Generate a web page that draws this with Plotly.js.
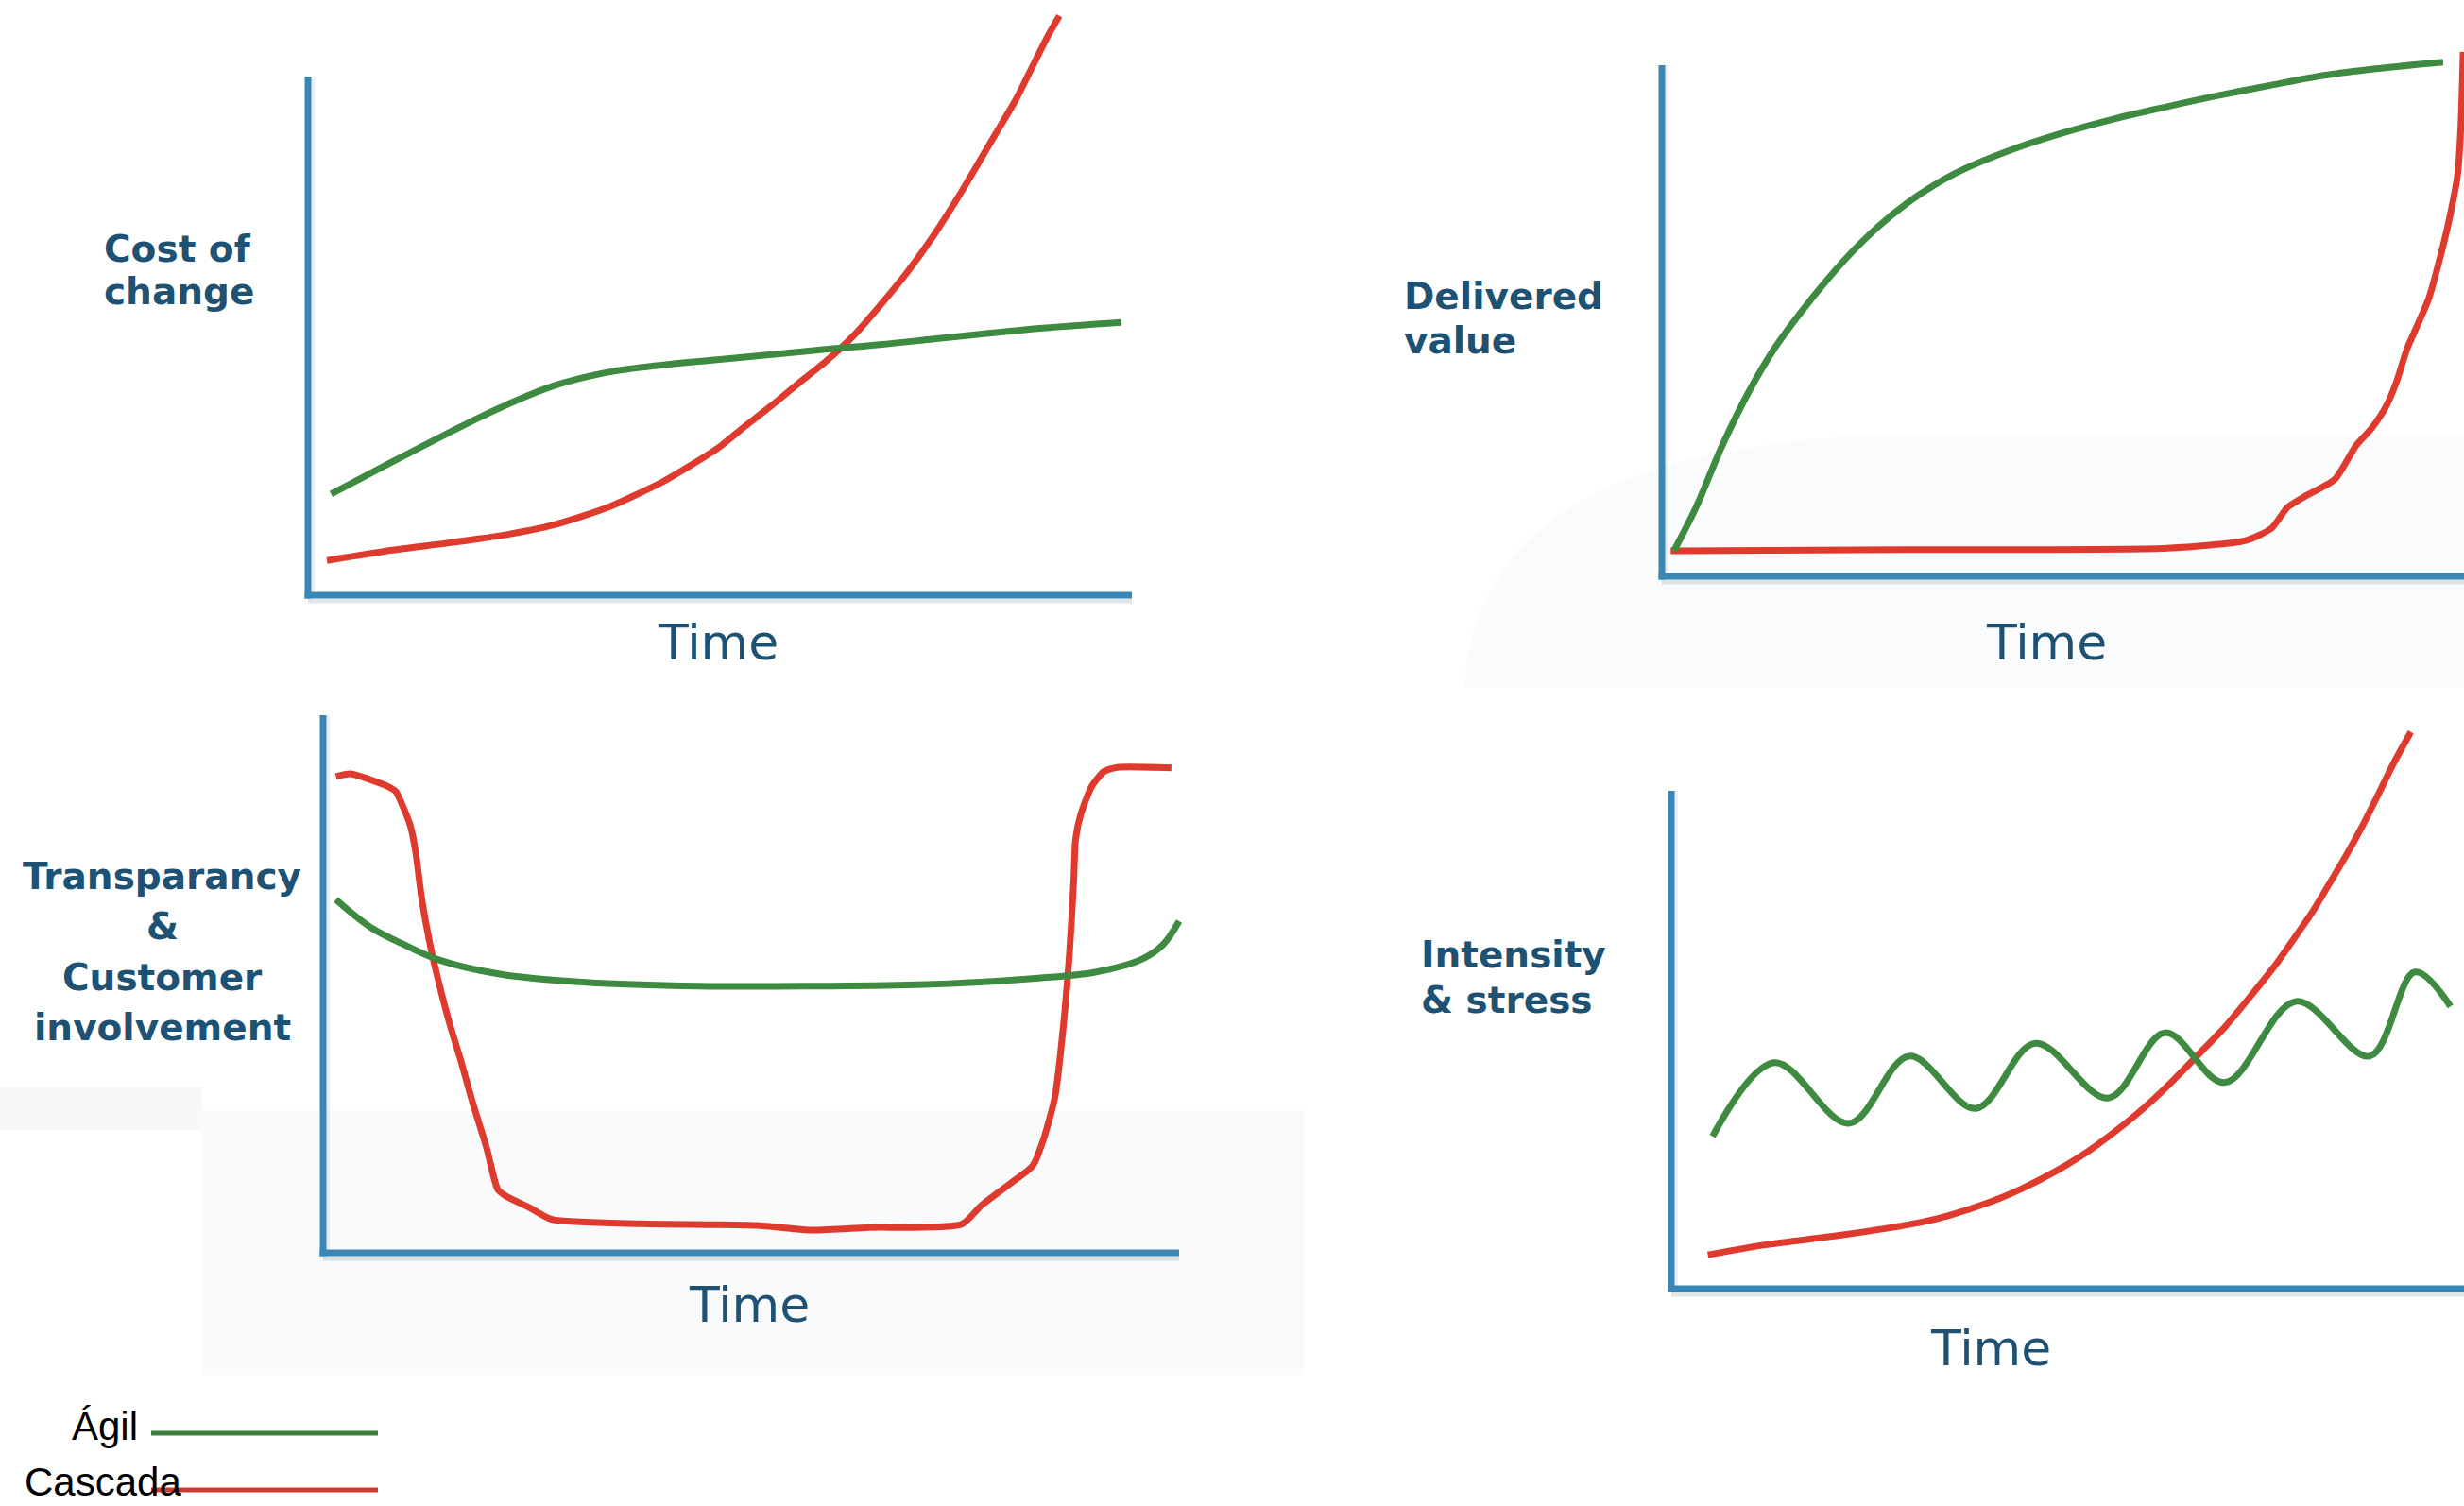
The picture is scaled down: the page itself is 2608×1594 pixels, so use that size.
<!DOCTYPE html>
<html>
<head>
<meta charset="utf-8">
<script src="https://cdn.plot.ly/plotly-3.0.1.min.js"></script>
<style>html,body{margin:0;padding:0;background:#fff;}#chart{width:2608px;height:1594px;}</style>
</head>
<body>
<div id="chart"></div>
<script>
// ---------------- DATA (time units 0..10 along each x axis, value units 0..10 along each y axis) ----------------
const seriesNames = ["Ágil", "Cascada"];
const timeLabel = "Time";

// Panel 1: Cost of change
const costLabel = ["Cost of", "change"];
const costTimeAgil = [0.28, 1.02, 1.67, 2.34, 2.99, 3.65, 4.31, 4.97, 5.63, 6.28, 6.94, 7.60, 8.26, 8.92, 9.87];
const costAgil     = [1.95, 2.57, 3.10, 3.62, 4.04, 4.30, 4.44, 4.54, 4.64, 4.74, 4.83, 4.94, 5.05, 5.15, 5.26];
const costTimeCascada = [0.23, 1.02, 1.67, 2.34, 2.99, 3.65, 4.31, 4.97, 5.30, 5.63, 5.95, 6.28, 6.62, 6.94, 7.27, 7.60, 7.94, 8.33, 8.59, 8.78, 8.98, 9.12];
const costCascada     = [0.67, 0.87, 1.00, 1.15, 1.36, 1.70, 2.19, 2.83, 3.25, 3.66, 4.08, 4.50, 5.00, 5.58, 6.22, 6.95, 7.80, 8.85, 9.55, 10.15, 10.78, 11.17];

// Panel 2: Delivered value
const valueLabel = ["Delivered", "value"];
const valueTimeAgil = [0.15, 0.42, 0.75, 1.08, 1.40, 1.73, 2.06, 2.38, 2.71, 3.04, 3.37, 3.69, 4.35, 4.99, 5.64, 6.30, 6.95, 7.60, 8.26, 8.90, 9.74];
const valueAgil     = [0.50, 1.33, 2.55, 3.60, 4.45, 5.16, 5.80, 6.36, 6.86, 7.28, 7.63, 7.91, 8.34, 8.67, 8.95, 9.19, 9.41, 9.61, 9.80, 9.93, 10.06];
const valueTimeCascada = [0.11, 3.00, 6.30, 7.28, 7.60, 7.80, 8.00, 8.39, 8.65, 8.85, 9.03, 9.16, 9.29, 9.43, 9.56, 9.69, 9.82, 9.92, 9.96, 9.99];
const valueCascada     = [0.50, 0.52, 0.55, 0.70, 0.94, 1.35, 1.55, 1.90, 2.55, 2.90, 3.33, 3.81, 4.45, 4.95, 5.43, 6.16, 7.01, 7.86, 8.76, 10.26];

// Panel 3: Transparancy & Customer involvement
const transLabel = ["Transparancy", "&", "Customer", "involvement"];
const transTimeAgil = [0.15, 0.55, 0.95, 1.35, 2.08, 3.07, 4.39, 5.72, 7.03, 8.36, 9.02, 9.55, 9.81, 10.00];
const transAgil     = [6.57, 6.06, 5.73, 5.45, 5.18, 5.03, 4.96, 4.96, 4.99, 5.11, 5.22, 5.45, 5.73, 6.17];
const transTimeCascada = [0.15, 0.32, 0.75, 0.85, 0.92, 1.02, 1.08, 1.15, 1.25, 1.35, 1.48, 1.61, 1.74, 1.91, 2.04, 2.14, 2.41, 2.67, 3.73, 5.06, 5.72, 6.37, 7.46, 7.69, 8.02, 8.29, 8.42, 8.55, 8.65, 8.72, 8.77, 8.79, 8.85, 8.98, 9.12, 9.28, 9.91];
const transCascada     = [8.86, 8.91, 8.68, 8.58, 8.35, 7.94, 7.47, 6.61, 5.73, 5.04, 4.25, 3.57, 2.83, 1.95, 1.18, 1.05, 0.84, 0.62, 0.54, 0.51, 0.42, 0.47, 0.53, 0.88, 1.28, 1.62, 2.13, 2.90, 4.25, 5.59, 6.94, 7.68, 8.15, 8.68, 8.95, 9.03, 9.02];

// Panel 4: Intensity & stress
const stressLabel = ["Intensity", "& stress"];
const stressTimeAgil = [0.52, 1.30, 2.24, 3.00, 3.84, 4.59, 5.51, 6.23, 6.98, 7.88, 8.81, 9.38, 9.83];
const stressAgil     = [3.06, 4.54, 3.32, 4.67, 3.62, 4.93, 3.83, 5.14, 4.14, 5.77, 4.67, 6.36, 5.67];
const stressTimeCascada = [0.46, 1.18, 1.82, 2.47, 3.11, 3.50, 4.02, 4.41, 4.85, 5.24, 5.51, 5.83, 6.08, 6.34, 6.66, 6.98, 7.31, 7.63, 7.82, 8.08, 8.27, 8.53, 8.72, 8.91, 9.11, 9.33];
const stressCascada     = [0.68, 0.88, 1.01, 1.15, 1.32, 1.47, 1.74, 2.00, 2.36, 2.74, 3.05, 3.45, 3.80, 4.20, 4.72, 5.25, 5.88, 6.52, 6.95, 7.55, 8.05, 8.75, 9.30, 9.90, 10.55, 11.18];

// ---------------- LAYOUT / STYLE ----------------
const W = 2608, H = 1594;
const GREEN = "#3d8a40", RED = "#de3a2d", AXIS = "#3b87b3", LABEL = "#1e5274";
const px = x => x / W, py = y => 1 - y / H;

// each panel: plotting box (px), origin of axes (px), px per unit, axis line lengths (units)
const panels = [
  {box:{L:300, R:1300, T:0,   B:662},  o:[326, 630],  s:[87.2, 54.9], xLen:10.0, yLen:10, label:costLabel,   lab:{x:108, y:263, gap:46, anchor:"left"},  time:[760, 680],
   agil:[costTimeAgil, costAgil], casc:[costTimeCascada, costCascada]},
  {box:{L:1720, R:2608, T:0,  B:662},  o:[1759, 610], s:[84.9, 54.1], xLen:10.5, yLen:10, label:valueLabel,  lab:{x:1484, y:313, gap:47, anchor:"left"}, time:[2166, 680],
   agil:[valueTimeAgil, valueAgil], casc:[valueTimeCascada, valueCascada]},
  {box:{L:300, R:1300, T:740, B:1360}, o:[342, 1326], s:[90.6, 56.9], xLen:10.0, yLen:10, label:transLabel,  lab:{x:172, y:927, gap:53.5, anchor:"center"}, time:[793, 1381],
   agil:[transTimeAgil, transAgil], casc:[transTimeCascada, transCascada]},
  {box:{L:1720, R:2608, T:740, B:1400},o:[1769, 1364],s:[83.9, 52.7], xLen:10.5, yLen:10, label:stressLabel, lab:{x:1502, y:1010, gap:48, anchor:"left"}, time:[2107, 1427],
   agil:[stressTimeAgil, stressAgil], casc:[stressTimeCascada, stressCascada]}
];

const layout = {
  width: W, height: H,
  margin: {l:0, r:0, t:0, b:0, pad:0},
  paper_bgcolor: "#ffffff", plot_bgcolor: "rgba(0,0,0,0)",
  showlegend: false,
  shapes: [], annotations: []
};

// faint slide background swooshes
layout.shapes.push(
  {type:"rect", xref:"paper", yref:"paper", x0:px(0), x1:px(214), y0:py(1196), y1:py(1150), line:{width:0}, fillcolor:"rgba(236,240,243,0.45)", layer:"below"},
  {type:"rect", xref:"paper", yref:"paper", x0:px(214), x1:px(1380), y0:py(1455), y1:py(1175), line:{width:0}, fillcolor:"rgba(236,240,243,0.35)", layer:"below"},
  {type:"path", xref:"paper", yref:"paper", line:{width:0}, fillcolor:"rgba(236,240,243,0.25)", layer:"below",
   path:`M ${px(1550)} ${py(728)} C ${px(1560)} ${py(560)}, ${px(1700)} ${py(470)}, ${px(2000)} ${py(460)} L ${px(2608)} ${py(460)} L ${px(2608)} ${py(728)} Z`}
);

const data = [];
panels.forEach((p, i) => {
  const n = i === 0 ? "" : String(i + 1);
  const xa = "xaxis" + n, ya = "yaxis" + n;
  const [ox, oy] = p.o, [sx, sy] = p.s, b = p.box;
  layout[xa] = {domain:[px(b.L), px(b.R)], range:[(b.L - ox) / sx, (b.R - ox) / sx], visible:false, fixedrange:true, anchor:"y" + n};
  layout[ya] = {domain:[py(b.B), py(b.T)], range:[(oy - b.B) / sy, (oy - b.T) / sy], visible:false, fixedrange:true, anchor:"x" + n};

  const lw = 7;
  // axis shadows
  layout.shapes.push(
    {type:"line", xref:"x" + n, yref:"y" + n, x0:0, x1:p.xLen, y0:-6 / sy, y1:-6 / sy, line:{color:"rgba(150,160,170,0.28)", width:5}, layer:"below"},
    {type:"line", xref:"x" + n, yref:"y" + n, x0:5 / sx, x1:5 / sx, y0:0, y1:p.yLen, line:{color:"rgba(150,160,170,0.18)", width:4}, layer:"below"}
  );
  // axis lines
  layout.shapes.push(
    {type:"line", xref:"x" + n, yref:"y" + n, x0:0, x1:0, y0:-(lw / 2) / sy, y1:p.yLen, line:{color:AXIS, width:lw}, layer:"below"},
    {type:"line", xref:"x" + n, yref:"y" + n, x0:-(lw / 2) / sx, x1:p.xLen, y0:0, y1:0, line:{color:AXIS, width:lw}, layer:"below"}
  );

  data.push({type:"scatter", mode:"lines", name:seriesNames[1], x:p.casc[0], y:p.casc[1], xaxis:"x" + n, yaxis:"y" + n,
             line:{color:RED, width:7, shape:"spline", smoothing:0.6}, hoverinfo:"skip"});
  data.push({type:"scatter", mode:"lines", name:seriesNames[0], x:p.agil[0], y:p.agil[1], xaxis:"x" + n, yaxis:"y" + n,
             line:{color:GREEN, width:7, shape:"spline", smoothing:1.0}, hoverinfo:"skip"});

  // y label lines
  p.label.forEach((t, k) => {
    layout.annotations.push({xref:"paper", yref:"paper", x:px(p.lab.x), y:py(p.lab.y + k * p.lab.gap), text:t, showarrow:false,
      xanchor:p.lab.anchor, yanchor:"middle", font:{family:"DejaVu Sans", size:39, color:LABEL, weight:"bold"}});
  });
  // Time label
  layout.annotations.push({xref:"paper", yref:"paper", x:px(p.time[0]), y:py(p.time[1]), text:timeLabel, showarrow:false,
    xanchor:"center", yanchor:"middle", font:{family:"DejaVu Sans", size:52, color:LABEL}});
});

// legend (text then sample line)
layout.shapes.push(
  {type:"line", xref:"paper", yref:"paper", x0:px(160), x1:px(400), y0:py(1517), y1:py(1517), line:{color:"#3b7f3c", width:5}},
  {type:"line", xref:"paper", yref:"paper", x0:px(160), x1:px(400), y0:py(1577), y1:py(1577), line:{color:"#cf3a30", width:5}}
);
layout.annotations.push(
  {xref:"paper", yref:"paper", x:px(148), y:py(1509), text:seriesNames[0], showarrow:false, xanchor:"right", yanchor:"middle",
   font:{family:"Liberation Sans, Arial, sans-serif", size:42, color:"#000"}},
  {xref:"paper", yref:"paper", x:px(24), y:py(1568), text:seriesNames[1], showarrow:false, xanchor:"left", yanchor:"middle",
   font:{family:"Liberation Sans, Arial, sans-serif", size:42, color:"#000"}}
);

Plotly.newPlot("chart", data, layout, {staticPlot:true, displayModeBar:false});
</script>
</body>
</html>
